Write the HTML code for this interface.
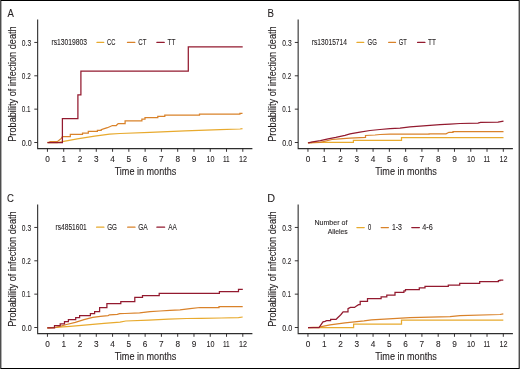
<!DOCTYPE html>
<html><head><meta charset="utf-8"><style>
html,body{margin:0;padding:0;background:#fff;}
svg{display:block;will-change:transform;} text{stroke:#231f20;stroke-width:0.1px;}
</style></head><body>
<svg width="520" height="369" viewBox="0 0 520 369" font-family='"Liberation Sans", sans-serif' fill="#231f20" stroke-width="0">
<rect x="0" y="0" width="520" height="369" fill="#fff"/>
<g transform="translate(0,0)">
<text x="7.45" y="16.80" font-size="11.6" textLength="6.37" lengthAdjust="spacingAndGlyphs">A</text>
<path d="M37.65,19.5 V148.65 H252.4" fill="none" stroke="#2e2e2e" stroke-width="1.1"/>
<path d="M34.3,142.50 H37.6 M34.3,109.15 H37.6 M34.3,75.80 H37.6 M34.3,42.45 H37.6 M47.45,148.6 V151.8 M63.73,148.6 V151.8 M80.01,148.6 V151.8 M96.29,148.6 V151.8 M112.57,148.6 V151.8 M128.85,148.6 V151.8 M145.13,148.6 V151.8 M161.41,148.6 V151.8 M177.69,148.6 V151.8 M193.97,148.6 V151.8 M210.25,148.6 V151.8 M226.53,148.6 V151.8 M242.81,148.6 V151.8" fill="none" stroke="#231f20" stroke-width="0.9"/>
<text x="21.81" y="145.70" font-size="9" textLength="9.92" lengthAdjust="spacingAndGlyphs">0.0</text>
<text x="21.85" y="112.35" font-size="9" textLength="8.72" lengthAdjust="spacingAndGlyphs">0.1</text>
<text x="21.84" y="79.00" font-size="9" textLength="8.93" lengthAdjust="spacingAndGlyphs">0.2</text>
<text x="21.83" y="45.65" font-size="9" textLength="9.29" lengthAdjust="spacingAndGlyphs">0.3</text>
<text x="47.45" y="162" font-size="9" text-anchor="middle" textLength="4.60" lengthAdjust="spacingAndGlyphs">0</text>
<text x="63.73" y="162" font-size="9" text-anchor="middle" textLength="4.60" lengthAdjust="spacingAndGlyphs">1</text>
<text x="80.01" y="162" font-size="9" text-anchor="middle" textLength="4.60" lengthAdjust="spacingAndGlyphs">2</text>
<text x="96.29" y="162" font-size="9" text-anchor="middle" textLength="4.60" lengthAdjust="spacingAndGlyphs">3</text>
<text x="112.57" y="162" font-size="9" text-anchor="middle" textLength="4.60" lengthAdjust="spacingAndGlyphs">4</text>
<text x="128.85" y="162" font-size="9" text-anchor="middle" textLength="4.60" lengthAdjust="spacingAndGlyphs">5</text>
<text x="145.13" y="162" font-size="9" text-anchor="middle" textLength="4.60" lengthAdjust="spacingAndGlyphs">6</text>
<text x="161.41" y="162" font-size="9" text-anchor="middle" textLength="4.60" lengthAdjust="spacingAndGlyphs">7</text>
<text x="177.69" y="162" font-size="9" text-anchor="middle" textLength="4.60" lengthAdjust="spacingAndGlyphs">8</text>
<text x="193.97" y="162" font-size="9" text-anchor="middle" textLength="4.60" lengthAdjust="spacingAndGlyphs">9</text>
<text x="206.43" y="162.00" font-size="9" textLength="7.98" lengthAdjust="spacingAndGlyphs">10</text>
<text x="222.96" y="162.00" font-size="9" textLength="6.73" lengthAdjust="spacingAndGlyphs">11</text>
<text x="239.08" y="162.00" font-size="9" textLength="8.06" lengthAdjust="spacingAndGlyphs">12</text>
<text x="114.67" y="174.70" font-size="10" textLength="61.63" lengthAdjust="spacingAndGlyphs">Time in months</text>
<text transform="translate(15.8,141.79) rotate(-90)" x="0" y="0" font-size="10" textLength="115.52" lengthAdjust="spacingAndGlyphs">Probability of infection death</text>
<text x="51.48" y="44.80" font-size="8.2" textLength="35.56" lengthAdjust="spacingAndGlyphs">rs13019803</text>
<path d="M97.0,42.400000000000006 H103.7" stroke="#e8aa2e" stroke-width="1.3" stroke-linecap="round"/>
<text x="106.96" y="44.80" font-size="8.2" textLength="8.35" lengthAdjust="spacingAndGlyphs">CC</text>
<path d="M127.5,42.400000000000006 H134.79999999999998" stroke="#d9822a" stroke-width="1.3" stroke-linecap="round"/>
<text x="138.34" y="44.80" font-size="8.2" textLength="8.15" lengthAdjust="spacingAndGlyphs">CT</text>
<path d="M156.9,42.400000000000006 H164.2" stroke="#931a2f" stroke-width="1.3" stroke-linecap="round"/>
<text x="167.42" y="44.80" font-size="8.2" textLength="7.97" lengthAdjust="spacingAndGlyphs">TT</text>
<path d="M47.5,142.6 H57 L62.4,141.7 L77.3,138.8 L94.6,136.2 L109.6,134.2 L120,133.5 L150,132.3 L185,130.8 L220,129.6 L240,129 L242.5,128.6" fill="none" stroke="#e8aa2e" stroke-width="1.25"/>
<path d="M47.5,142.3 H50 V141.7 H57.3 L61.3,138.4 L62.4,136.7 H70.3 V134.4 H82.5 V133.2 H88.3 V131.4 H97.4 V130.4 H101.2 V129.6 L104.3,128.6 L107.4,127.7 L109.7,126.7 L112.4,125.5 H116.2 L118.2,123.6 H125.1 V120.8 H141.9 V119.2 H145 V117.5 H157.8 V116.4 H164.8 V115.1 H199.5 V114.2 H239.9 V113.3 H242.5" fill="none" stroke="#d9822a" stroke-width="1.25"/>
<path d="M47.5,142.7 H62.4 V118.6 H77.9 V94.9 H80.9 V71.0 H188.3 V46.9 H242.7" fill="none" stroke="#931a2f" stroke-width="1.25"/>
</g>
<g transform="translate(260.5,0)">
<text x="6.88" y="16.80" font-size="11.6" textLength="6.42" lengthAdjust="spacingAndGlyphs">B</text>
<path d="M37.65,19.5 V148.65 H252.4" fill="none" stroke="#2e2e2e" stroke-width="1.1"/>
<path d="M34.3,142.50 H37.6 M34.3,109.15 H37.6 M34.3,75.80 H37.6 M34.3,42.45 H37.6 M47.45,148.6 V151.8 M63.73,148.6 V151.8 M80.01,148.6 V151.8 M96.29,148.6 V151.8 M112.57,148.6 V151.8 M128.85,148.6 V151.8 M145.13,148.6 V151.8 M161.41,148.6 V151.8 M177.69,148.6 V151.8 M193.97,148.6 V151.8 M210.25,148.6 V151.8 M226.53,148.6 V151.8 M242.81,148.6 V151.8" fill="none" stroke="#231f20" stroke-width="0.9"/>
<text x="21.81" y="145.70" font-size="9" textLength="9.92" lengthAdjust="spacingAndGlyphs">0.0</text>
<text x="21.85" y="112.35" font-size="9" textLength="8.72" lengthAdjust="spacingAndGlyphs">0.1</text>
<text x="21.84" y="79.00" font-size="9" textLength="8.93" lengthAdjust="spacingAndGlyphs">0.2</text>
<text x="21.83" y="45.65" font-size="9" textLength="9.29" lengthAdjust="spacingAndGlyphs">0.3</text>
<text x="47.45" y="162" font-size="9" text-anchor="middle" textLength="4.60" lengthAdjust="spacingAndGlyphs">0</text>
<text x="63.73" y="162" font-size="9" text-anchor="middle" textLength="4.60" lengthAdjust="spacingAndGlyphs">1</text>
<text x="80.01" y="162" font-size="9" text-anchor="middle" textLength="4.60" lengthAdjust="spacingAndGlyphs">2</text>
<text x="96.29" y="162" font-size="9" text-anchor="middle" textLength="4.60" lengthAdjust="spacingAndGlyphs">3</text>
<text x="112.57" y="162" font-size="9" text-anchor="middle" textLength="4.60" lengthAdjust="spacingAndGlyphs">4</text>
<text x="128.85" y="162" font-size="9" text-anchor="middle" textLength="4.60" lengthAdjust="spacingAndGlyphs">5</text>
<text x="145.13" y="162" font-size="9" text-anchor="middle" textLength="4.60" lengthAdjust="spacingAndGlyphs">6</text>
<text x="161.41" y="162" font-size="9" text-anchor="middle" textLength="4.60" lengthAdjust="spacingAndGlyphs">7</text>
<text x="177.69" y="162" font-size="9" text-anchor="middle" textLength="4.60" lengthAdjust="spacingAndGlyphs">8</text>
<text x="193.97" y="162" font-size="9" text-anchor="middle" textLength="4.60" lengthAdjust="spacingAndGlyphs">9</text>
<text x="206.43" y="162.00" font-size="9" textLength="7.98" lengthAdjust="spacingAndGlyphs">10</text>
<text x="222.96" y="162.00" font-size="9" textLength="6.73" lengthAdjust="spacingAndGlyphs">11</text>
<text x="239.08" y="162.00" font-size="9" textLength="8.06" lengthAdjust="spacingAndGlyphs">12</text>
<text x="114.67" y="174.70" font-size="10" textLength="61.63" lengthAdjust="spacingAndGlyphs">Time in months</text>
<text transform="translate(15.8,141.79) rotate(-90)" x="0" y="0" font-size="10" textLength="115.52" lengthAdjust="spacingAndGlyphs">Probability of infection death</text>
<text x="51.28" y="44.80" font-size="8.2" textLength="35.18" lengthAdjust="spacingAndGlyphs">rs13015714</text>
<path d="M96.5,42.400000000000006 H103.2" stroke="#e8aa2e" stroke-width="1.3" stroke-linecap="round"/>
<text x="107.05" y="44.80" font-size="8.2" textLength="9.36" lengthAdjust="spacingAndGlyphs">GG</text>
<path d="M128.2,42.400000000000006 H135.0" stroke="#d9822a" stroke-width="1.3" stroke-linecap="round"/>
<text x="138.36" y="44.80" font-size="8.2" textLength="8.00" lengthAdjust="spacingAndGlyphs">GT</text>
<path d="M157.1,42.400000000000006 H164.39999999999998" stroke="#931a2f" stroke-width="1.3" stroke-linecap="round"/>
<text x="167.52" y="44.80" font-size="8.2" textLength="7.87" lengthAdjust="spacingAndGlyphs">TT</text>
<path d="M47.3,142.7 H51 V142.4 H92.9 V140.4 H141 V137.6 H243" fill="none" stroke="#e8aa2e" stroke-width="1.25"/>
<path d="M47.6,142.8 L60,142.3 L71.4,139.5 L79.1,138.8 L89.5,138.2 L105,137.4 V135.5 L114.5,135 L119.5,134.5 L129.5,134.2 H168.6 V133.8 H185.5 L188.5,132.3 H192.5 V131.5 H243" fill="none" stroke="#d9822a" stroke-width="1.25"/>
<path d="M47.6,142.8 L52.2,141.8 L59.9,140.7 L67.6,138.8 L75.3,137.4 L84.5,135.3 L89.5,133.9 L99.5,132.2 L109.5,130.5 L119.5,129.5 L129.5,128.6 L139.5,128.1 L149.5,126.9 L159.5,126.1 L169.5,125.4 L179.5,124.7 L189.5,124.1 L199.5,123.5 L217.5,123.2 L220,122.3 L237.5,122.2 L243,121.1" fill="none" stroke="#931a2f" stroke-width="1.25"/>
</g>
<g transform="translate(0,185)">
<text x="7.07" y="16.80" font-size="11.6" textLength="6.88" lengthAdjust="spacingAndGlyphs">C</text>
<path d="M37.65,19.5 V148.65 H252.4" fill="none" stroke="#2e2e2e" stroke-width="1.1"/>
<path d="M34.3,142.50 H37.6 M34.3,109.15 H37.6 M34.3,75.80 H37.6 M34.3,42.45 H37.6 M47.45,148.6 V151.8 M63.73,148.6 V151.8 M80.01,148.6 V151.8 M96.29,148.6 V151.8 M112.57,148.6 V151.8 M128.85,148.6 V151.8 M145.13,148.6 V151.8 M161.41,148.6 V151.8 M177.69,148.6 V151.8 M193.97,148.6 V151.8 M210.25,148.6 V151.8 M226.53,148.6 V151.8 M242.81,148.6 V151.8" fill="none" stroke="#231f20" stroke-width="0.9"/>
<text x="21.81" y="145.70" font-size="9" textLength="9.92" lengthAdjust="spacingAndGlyphs">0.0</text>
<text x="21.85" y="112.35" font-size="9" textLength="8.72" lengthAdjust="spacingAndGlyphs">0.1</text>
<text x="21.84" y="79.00" font-size="9" textLength="8.93" lengthAdjust="spacingAndGlyphs">0.2</text>
<text x="21.83" y="45.65" font-size="9" textLength="9.29" lengthAdjust="spacingAndGlyphs">0.3</text>
<text x="47.45" y="162" font-size="9" text-anchor="middle" textLength="4.60" lengthAdjust="spacingAndGlyphs">0</text>
<text x="63.73" y="162" font-size="9" text-anchor="middle" textLength="4.60" lengthAdjust="spacingAndGlyphs">1</text>
<text x="80.01" y="162" font-size="9" text-anchor="middle" textLength="4.60" lengthAdjust="spacingAndGlyphs">2</text>
<text x="96.29" y="162" font-size="9" text-anchor="middle" textLength="4.60" lengthAdjust="spacingAndGlyphs">3</text>
<text x="112.57" y="162" font-size="9" text-anchor="middle" textLength="4.60" lengthAdjust="spacingAndGlyphs">4</text>
<text x="128.85" y="162" font-size="9" text-anchor="middle" textLength="4.60" lengthAdjust="spacingAndGlyphs">5</text>
<text x="145.13" y="162" font-size="9" text-anchor="middle" textLength="4.60" lengthAdjust="spacingAndGlyphs">6</text>
<text x="161.41" y="162" font-size="9" text-anchor="middle" textLength="4.60" lengthAdjust="spacingAndGlyphs">7</text>
<text x="177.69" y="162" font-size="9" text-anchor="middle" textLength="4.60" lengthAdjust="spacingAndGlyphs">8</text>
<text x="193.97" y="162" font-size="9" text-anchor="middle" textLength="4.60" lengthAdjust="spacingAndGlyphs">9</text>
<text x="206.43" y="162.00" font-size="9" textLength="7.98" lengthAdjust="spacingAndGlyphs">10</text>
<text x="222.96" y="162.00" font-size="9" textLength="6.73" lengthAdjust="spacingAndGlyphs">11</text>
<text x="239.08" y="162.00" font-size="9" textLength="8.06" lengthAdjust="spacingAndGlyphs">12</text>
<text x="114.67" y="174.70" font-size="10" textLength="61.63" lengthAdjust="spacingAndGlyphs">Time in months</text>
<text transform="translate(15.8,141.79) rotate(-90)" x="0" y="0" font-size="10" textLength="115.52" lengthAdjust="spacingAndGlyphs">Probability of infection death</text>
<text x="55.59" y="44.60" font-size="8.2" textLength="31.17" lengthAdjust="spacingAndGlyphs">rs4851601</text>
<path d="M96.6,42.2 H103.9" stroke="#e8aa2e" stroke-width="1.3" stroke-linecap="round"/>
<text x="107.14" y="44.60" font-size="8.2" textLength="9.79" lengthAdjust="spacingAndGlyphs">GG</text>
<path d="M127.7,42.2 H135.0" stroke="#d9822a" stroke-width="1.3" stroke-linecap="round"/>
<text x="138.22" y="44.60" font-size="8.2" textLength="9.56" lengthAdjust="spacingAndGlyphs">GA</text>
<path d="M156.9,42.2 H164.6" stroke="#931a2f" stroke-width="1.3" stroke-linecap="round"/>
<text x="168.15" y="44.60" font-size="8.2" textLength="8.63" lengthAdjust="spacingAndGlyphs">AA</text>
<path d="M47.3,142.8 L56,142.3 L70,141.3 L90,139.6 L104,138.4 L120,137.1 L125.8,136 L148.8,135.1 L168.4,134.2 L186.5,133.5 L201,133.3 L221.2,133 L238.5,132.6 L242.7,132" fill="none" stroke="#e8aa2e" stroke-width="1.25"/>
<path d="M47.3,142.8 L56.3,142.4 L66.6,139.5 L75.3,137.3 L84,134.6 L92.7,132.3 L100.4,131.4 L108.1,130.6 L109.6,129.8 L117.3,129.4 L119.6,128.7 L125,128.5 L139.6,127.9 L150,126.6 L160,126 L170,125.4 L180,124.8 L190,123.7 L200,122.5 H219 V121.6 H242.7" fill="none" stroke="#d9822a" stroke-width="1.25"/>
<path d="M47.3,142.8 H54.5 V140.7 H60.2 V138.8 H64.5 V136.7 H68.4 V134.7 H75.7 V132.7 H79.6 V130.6 H90.4 V128.5 H94.6 V126.5 H99.6 V122.5 H106.9 V118.5 H120.8 V116.5 H134.8 V112.3 H142.5 V110.6 H159.2 V108.3 H219.4 V106.5 H238.5 V104.4 H242.8" fill="none" stroke="#931a2f" stroke-width="1.25"/>
</g>
<g transform="translate(260.5,185)">
<text x="6.78" y="16.80" font-size="11.6" textLength="7.83" lengthAdjust="spacingAndGlyphs">D</text>
<path d="M37.65,19.5 V148.65 H252.4" fill="none" stroke="#2e2e2e" stroke-width="1.1"/>
<path d="M34.3,142.50 H37.6 M34.3,109.15 H37.6 M34.3,75.80 H37.6 M34.3,42.45 H37.6 M47.45,148.6 V151.8 M63.73,148.6 V151.8 M80.01,148.6 V151.8 M96.29,148.6 V151.8 M112.57,148.6 V151.8 M128.85,148.6 V151.8 M145.13,148.6 V151.8 M161.41,148.6 V151.8 M177.69,148.6 V151.8 M193.97,148.6 V151.8 M210.25,148.6 V151.8 M226.53,148.6 V151.8 M242.81,148.6 V151.8" fill="none" stroke="#231f20" stroke-width="0.9"/>
<text x="21.81" y="145.70" font-size="9" textLength="9.92" lengthAdjust="spacingAndGlyphs">0.0</text>
<text x="21.85" y="112.35" font-size="9" textLength="8.72" lengthAdjust="spacingAndGlyphs">0.1</text>
<text x="21.84" y="79.00" font-size="9" textLength="8.93" lengthAdjust="spacingAndGlyphs">0.2</text>
<text x="21.83" y="45.65" font-size="9" textLength="9.29" lengthAdjust="spacingAndGlyphs">0.3</text>
<text x="47.45" y="162" font-size="9" text-anchor="middle" textLength="4.60" lengthAdjust="spacingAndGlyphs">0</text>
<text x="63.73" y="162" font-size="9" text-anchor="middle" textLength="4.60" lengthAdjust="spacingAndGlyphs">1</text>
<text x="80.01" y="162" font-size="9" text-anchor="middle" textLength="4.60" lengthAdjust="spacingAndGlyphs">2</text>
<text x="96.29" y="162" font-size="9" text-anchor="middle" textLength="4.60" lengthAdjust="spacingAndGlyphs">3</text>
<text x="112.57" y="162" font-size="9" text-anchor="middle" textLength="4.60" lengthAdjust="spacingAndGlyphs">4</text>
<text x="128.85" y="162" font-size="9" text-anchor="middle" textLength="4.60" lengthAdjust="spacingAndGlyphs">5</text>
<text x="145.13" y="162" font-size="9" text-anchor="middle" textLength="4.60" lengthAdjust="spacingAndGlyphs">6</text>
<text x="161.41" y="162" font-size="9" text-anchor="middle" textLength="4.60" lengthAdjust="spacingAndGlyphs">7</text>
<text x="177.69" y="162" font-size="9" text-anchor="middle" textLength="4.60" lengthAdjust="spacingAndGlyphs">8</text>
<text x="193.97" y="162" font-size="9" text-anchor="middle" textLength="4.60" lengthAdjust="spacingAndGlyphs">9</text>
<text x="206.43" y="162.00" font-size="9" textLength="7.98" lengthAdjust="spacingAndGlyphs">10</text>
<text x="222.96" y="162.00" font-size="9" textLength="6.73" lengthAdjust="spacingAndGlyphs">11</text>
<text x="239.08" y="162.00" font-size="9" textLength="8.06" lengthAdjust="spacingAndGlyphs">12</text>
<text x="114.67" y="174.70" font-size="10" textLength="61.63" lengthAdjust="spacingAndGlyphs">Time in months</text>
<text transform="translate(15.8,141.79) rotate(-90)" x="0" y="0" font-size="10" textLength="115.52" lengthAdjust="spacingAndGlyphs">Probability of infection death</text>
<text x="53.88" y="40.10" font-size="7.3" textLength="33.06" lengthAdjust="spacingAndGlyphs">Number of</text>
<text x="67.25" y="48.80" font-size="7.3" textLength="19.94" lengthAdjust="spacingAndGlyphs">Alleles</text>
<path d="M96.4,42.6 H103.7" stroke="#e8aa2e" stroke-width="1.3" stroke-linecap="round"/>
<text x="107.42" y="45.00" font-size="8.2" textLength="3.24" lengthAdjust="spacingAndGlyphs">0</text>
<path d="M120.7,42.6 H127.89999999999999" stroke="#d9822a" stroke-width="1.3" stroke-linecap="round"/>
<text x="131.39" y="45.00" font-size="8.2" textLength="10.07" lengthAdjust="spacingAndGlyphs">1-3</text>
<path d="M151.3,42.6 H158.89999999999998" stroke="#931a2f" stroke-width="1.3" stroke-linecap="round"/>
<text x="161.71" y="45.00" font-size="8.2" textLength="10.47" lengthAdjust="spacingAndGlyphs">4-6</text>
<path d="M47.5,142.7 H93.1 V139 H141 V135.1 H242.8" fill="none" stroke="#e8aa2e" stroke-width="1.25"/>
<path d="M47.5,142.6 L58.5,142.1 L69.5,139.9 L84.5,137.8 L103.5,135.8 L110.9,134.8 L123.9,134.1 L149.5,132.7 L189.5,131.6 L199.5,130.6 L239.5,129.5 L242.8,128.9" fill="none" stroke="#d9822a" stroke-width="1.25"/>
<path d="M47.5,142.6 H58.5 L62.5,136.9 L64.5,136.3 L66.1,135.6 H70.1 V134.4 H75.6 L76.9,133 L79,131 L80.5,129.5 L82.6,126.9 H87.5 V123.7 L89.9,122.4 H94 L95.6,121.2 L98.1,119.6 H99.7 V116.3 H107 V113.5 H120.6 V111.8 H126.3 V110.2 H134.5 V107.3 H143.4 V105.8 H145 V104.5 H158.8 V102.9 H164.5 V101.3 H187.8 V100 H199.2 V98.3 H219.2 V96.7 H237.9 V95.6 H239.5 V95.1 H242.8" fill="none" stroke="#931a2f" stroke-width="1.25"/>
</g>
<path d="M0,0.5 H520 M0,368.5 H520" stroke="#000" stroke-width="1"/>
<path d="M0.5,0 V369 M519.5,0 V369" stroke="#4d4d4d" stroke-width="1"/>
<path d="M1.5,1 V368 M518.5,1 V368" stroke="#b0b0b0" stroke-width="1"/>
</svg>
</body></html>
